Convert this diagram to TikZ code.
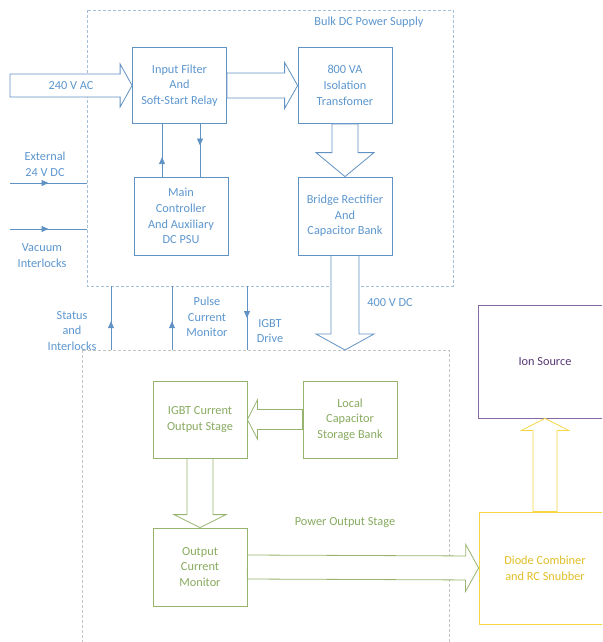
\documentclass[tikz,border=0pt]{standalone}
\usepackage{fontspec}
\setmainfont{Carlito}
\usetikzlibrary{calc,arrows.meta,decorations.markings}
\definecolor{bulkline}{RGB}{96,146,196}
\definecolor{bulktext}{RGB}{92,150,206}
\definecolor{bulkdash}{RGB}{165,190,215}
\definecolor{stageline}{RGB}{150,180,110}
\definecolor{stagetext}{RGB}{135,170,95}
\definecolor{stagedash}{RGB}{195,195,195}
\definecolor{diodeline}{RGB}{245,215,70}
\definecolor{diodetext}{RGB}{225,190,40}
\definecolor{ionline}{RGB}{135,105,165}
\definecolor{iontext}{RGB}{85,55,115}
\newcommand{\blockfont}{\fontsize{12.3}{15.7}\selectfont}
% block arrow: [style]{start}{end}{shaft half width}{head half width}{head length}
\newcommand{\fatarrow}[6][]{%
  \coordinate (fa-s) at #2;
  \coordinate (fa-e) at #3;
  \coordinate (fa-h) at ($(fa-e)!#6!(fa-s)$);
  \draw[#1] ($(fa-s)!#4!90:(fa-e)$) -- ($(fa-h)!#4!90:(fa-e)$)
    -- ($(fa-h)!#5!90:(fa-e)$) -- (fa-e) -- ($(fa-h)!#5!-90:(fa-e)$)
    -- ($(fa-h)!#4!-90:(fa-e)$) -- ($(fa-s)!#4!-90:(fa-e)$) -- cycle;}

\begin{document}
\begin{tikzpicture}[x=1pt,y=-1pt]

		\useasboundingbox (0,0) rectangle (602,642);
		\clip (0,0) rectangle (602,642);
		\tikzset{blok/.style={draw, line width=0.8pt, minimum width=94pt, minimum height=76pt, align=center, inner sep=2pt, font=\blockfont}}
		\tikzset{bluebox/.style={blok, draw=bulkline, text=bulktext}}
		\tikzset{greenbox/.style={blok, draw=stageline, text=stagetext}}
		\tikzset{lbl/.style={align=center, font=\blockfont, inner sep=0pt}}
		\tikzset{sig/.style={draw=bulkline, line width=0.8pt}}
		\tikzset{sigmark/.style={sig, postaction={decorate}, decoration={markings, mark=at position #1 with {\arrow[bulkline]{Triangle[width=6pt,length=7pt]}}}}}
		\tikzset{bluefat/.style={draw=bulkline, line width=0.8pt, fill=white}}
		\tikzset{greenfat/.style={draw=stageline, line width=0.8pt, fill=white}}
		\tikzset{yellowfat/.style={draw=diodeline, line width=0.8pt, fill=white}}

		% dashed group outlines
		\coordinate (bulk-nw) at (87,10);
		\coordinate (bulk-se) at (453,286);
		\coordinate (stage-nw) at (82,350);
		\coordinate (stage-se) at (449,660);
		\draw[bulkdash, line width=0.8pt, dash pattern=on 3pt off 2pt] (bulk-nw) rectangle (bulk-se);
		\draw[stagedash, line width=0.8pt, dash pattern=on 3pt off 2pt] (stage-nw) rectangle (stage-se);

		\node[bluebox] (filter) at (179.5,85.5) {Input Filter\\And\\Soft-Start Relay};
		\node[bluebox] (iso) at (345,85.5) {800 VA\\Isolation\\Transfomer};
		\node[bluebox, minimum height=78pt] (main) at (181,216) {Main\\Controller\\And Auxiliary\\DC PSU};
		\node[bluebox, minimum height=78pt] (bridge) at (345,216) {Bridge Rectifier\\And\\Capacitor Bank};
		\node[greenbox, minimum height=77pt] (igbt) at (200,419.5) {IGBT Current\\Output Stage};
		\node[greenbox, minimum height=77pt] (local) at (350,419.5) {Local\\Capacitor\\Storage Bank};
		\node[greenbox, minimum height=78pt] (monitor) at (200,567) {Output\\Current\\Monitor};
		\node[blok, draw=diodeline, text=diodetext, minimum width=132pt, minimum height=112pt] (diode) at (545,568) {Diode Combiner\\and RC Snubber};
		\node[blok, draw=ionline, text=iontext, minimum width=134pt, minimum height=113pt] (ion) at (545,361.5) {Ion Source};

		\node[lbl, text=bulktext] (bulklbl) at (369,22) {Bulk DC Power Supply};
		\node[lbl, text=stagetext] (stagelbl) at (345,523) {Power Output Stage};
		\node[lbl, text=bulktext] (dclbl) at (390,303) {400 V DC};
		\node[lbl, text=bulktext] (extlbl) at (45,164) {External\\24 V DC};
		\node[lbl, text=bulktext] (vaclbl) at (42,255.5) {Vacuum\\Interlocks};
		\node[lbl, text=bulktext] (statlbl) at (72,331) {Status\\and\\Interlocks};
		\node[lbl, text=bulktext] (pulselbl) at (207,317) {Pulse\\Current\\Monitor};
		\node[lbl, text=bulktext] (igbtlbl) at (270,331) {IGBT\\Drive};

		% block arrows
		\coordinate (acin) at (10,85.5);
		\fatarrow[bluefat]{(acin)}{(filter.west)}{11.5pt}{21.5pt}{12pt}
		\node[lbl, text=bulktext] (aclbl) at (71,86) {240 V AC};
		\fatarrow[bluefat]{(filter.east)}{(iso.west)}{12.5pt}{23pt}{13pt}
		\fatarrow[bluefat]{(iso.south)}{(bridge.north)}{13pt}{29pt}{24pt}
		\fatarrow[bluefat]{(bridge.south)}{(bridge.south |- stage-nw)}{14pt}{29pt}{16pt}
		\fatarrow[greenfat]{(local.west)}{(igbt.east)}{10pt}{19.5pt}{10pt}
		\fatarrow[greenfat]{(igbt.south)}{(monitor.north)}{13pt}{26pt}{13pt}
		\fatarrow[greenfat]{(monitor.east)}{(diode.west)}{12pt}{23.5pt}{13pt}
		\fatarrow[yellowfat]{(diode.north)}{(ion.south)}{12pt}{23.5pt}{12pt}

		% signal lines
		\coordinate (ctlup) at (162,150);
		\coordinate (ctldown) at (200,150);
		\draw[sigmark=0.37] (main.north -| ctlup) -- (filter.south -| ctlup);
		\draw[sigmark=0.41] (filter.south -| ctldown) -- (main.north -| ctldown);

		\coordinate (extin) at (10,183);
		\coordinate (vacin) at (10,229);
		\draw[sigmark=0.5] (extin) -- (extin -| bulk-nw);
		\draw[sigmark=0.5] (vacin) -- (vacin -| bulk-nw);

		\coordinate (statx) at (111,318);
		\coordinate (pulsex) at (172,318);
		\coordinate (drivex) at (247,318);
		\draw[sigmark=0.45] (statx |- stage-nw) -- (statx |- bulk-se);
		\draw[sigmark=0.45] (pulsex |- stage-nw) -- (pulsex |- bulk-se);
		\draw[sigmark=0.5] (drivex |- bulk-se) -- (drivex |- stage-nw);

\end{tikzpicture}
\end{document}
